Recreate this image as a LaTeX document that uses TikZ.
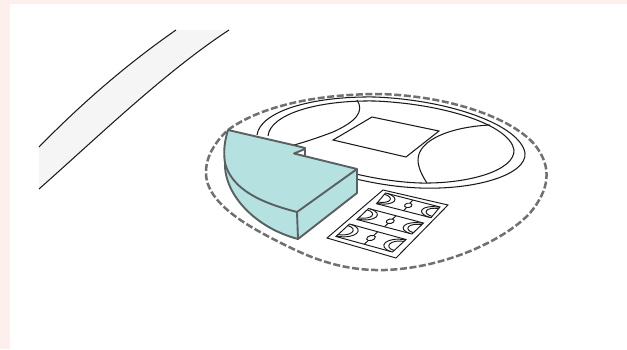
\documentclass[tikz,border=0pt]{standalone}
\definecolor{pinkbg}{HTML}{FDEFEC}
\definecolor{teal1}{HTML}{B5E2E0}
\definecolor{edge}{HTML}{5A5F5F}
\definecolor{dashc}{HTML}{707070}
\definecolor{road}{HTML}{F5F5F5}
\definecolor{ink}{HTML}{1A1A1A}
\tikzset{
  thin ink/.style={draw=ink,line width=1.05pt},
  block/.style={draw=edge,line width=1.9pt,line join=round,fill=teal1},
  boundary/.style={draw=dashc,line width=2.5pt,dash pattern=on 7pt off 2.6pt},
  courtline/.style={draw=ink,line width=0.95pt}
}
\newcommand{\courtdraw}{%
  \draw[courtline] (0,0)--(1,0)--(1,1)--(0,1)--cycle;
  \draw[courtline] (.5,0)--(.5,1);
  \draw[courtline,fill=white] (.5,.5) ellipse (.06 and .2);
  \draw[courtline] (.03,0) .. controls (.3,.05) and (.32,.85) .. (0,.97);
  \draw[courtline] (.0,.12) .. controls (.2,.15) and (.22,.75) .. (0,.85);
  \draw[courtline] (.97,1) .. controls (.7,.95) and (.68,.15) .. (1,.03);
  \draw[courtline] (1,.88) .. controls (.8,.85) and (.78,.25) .. (1,.15);
}
\begin{document}
\begin{tikzpicture}[x=1pt,y=-1pt]
\useasboundingbox (0,0) rectangle (627,349);
\fill[white] (0,0) rectangle (627,349);
\fill[pinkbg] (0,0) rectangle (627,4);
\fill[pinkbg] (0,0) rectangle (10,349);
% road
\fill[road] (39,147) .. controls (85,100) and (130,62) .. (176,30) -- (229,30) .. controls (165,72) and (100,135) .. (39,189) -- cycle;
\draw[thin ink] (39,147) .. controls (85,100) and (130,62) .. (176,30);
\draw[thin ink] (229,30) .. controls (165,72) and (100,135) .. (39,189);
% boundary
\draw[boundary] (228,130) .. controls (262,105) and (320,94) .. (380,94)
 .. controls (450,96) and (512,118) .. (535,145)
 .. controls (553,168) and (549,190) .. (530,213)
 .. controls (505,240) and (445,268) .. (385,270)
 .. controls (345,271) and (315,260) .. (285,245)
 .. controls (255,230) and (205,205) .. (206,172)
 .. controls (206,155) and (217,140) .. (228,130) -- cycle;
% stadium rings
\draw[thin ink] (257,135) .. controls (260,112) and (310,96) .. (375,97)
 .. controls (450,100) and (520,125) .. (525,153)
 .. controls (527,175) and (475,190) .. (420,188)
 .. controls (395,187) and (370,183) .. (340,175);
\draw[thin ink] (268,136) .. controls (270,115) and (315,100) .. (375,101)
 .. controls (445,104) and (510,125) .. (514,150)
 .. controls (515,170) and (470,184) .. (420,183)
 .. controls (395,182) and (370,178) .. (340,170);
\draw[thin ink] (357,100) .. controls (365,112) and (355,122) .. (333,132) .. controls (320,137) and (305,142) .. (294,145);
\draw[thin ink] (490,125) .. controls (450,127) and (418,140) .. (418,160) .. controls (418,168) and (423,177) .. (427,183);
\draw[thin ink] (372,117) -- (439,131) -- (406,157) -- (333,140) -- cycle;
% courts
\draw[courtline] (383,190) -- (448,205) -- (396,258) -- (327,238) -- cycle;
\begin{scope}[shift={(385.5,193)},x={(54.5pt,-14pt)},y={(-9pt,-10.7pt)}]\courtdraw\end{scope}
\begin{scope}[shift={(368.5,208.5)},x={(55pt,-14.5pt)},y={(-11.5pt,-11pt)}]\courtdraw\end{scope}
\begin{scope}[shift={(349.5,224)},x={(56.5pt,-15.5pt)},y={(-13.5pt,-12.5pt)}]\courtdraw\end{scope}
% block
\fill[teal1] (225,163) .. controls (226,200) and (258,230) .. (298,239) -- (357,193) -- (357,169) -- (225,140) -- cycle;
\draw[block] (225,163) .. controls (224,195) and (256,228) .. (298,239) -- (357,193) -- (357,169);
\draw[block] (297,212) -- (298,239);
\draw[block] (228,130) -- (293,145) -- (305,148) -- (305,149) -- (294,153.5) -- (357,169) -- (297,212)
 .. controls (262,203) and (232,190) .. (225,163) .. controls (223,150) and (225,140) .. (228,130) -- cycle;
\draw[draw=edge,line width=1.9pt] (305,148) -- (305,156.5);
\end{tikzpicture}
\end{document}
